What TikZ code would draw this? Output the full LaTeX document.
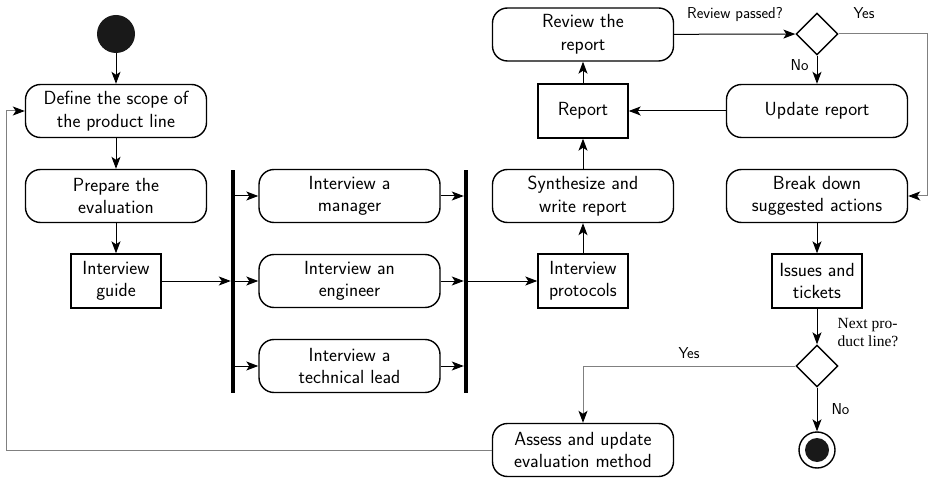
\documentclass[tikz,border=0pt]{standalone}
\usepackage{fontspec}
\newfontfamily\serifb{Liberation Serif}
\usetikzlibrary{arrows.meta,shapes.geometric}
\begin{document}
\begin{tikzpicture}[x=1pt,y=-1pt,
  base/.style={font=\sffamily\fontsize{19}{22.5}\selectfont, align=center, inner sep=0pt},
  act/.style={base, draw, line width=1.4pt, rounded corners=15pt, minimum width=181pt, minimum height=53pt},
  obj/.style={base, draw, line width=1.4pt, minimum width=90pt, minimum height=54pt},
  dec/.style={draw, diamond, line width=1.4pt, minimum width=42pt, minimum height=42pt, inner sep=0pt},
  bar/.style={fill=black, minimum width=4pt, minimum height=223pt, inner sep=0pt},
  arr/.style={-{Stealth[length=12pt,width=9pt,inset=3pt,color=black]}, line width=1pt},
  garr/.style={arr, draw=gray},
  lbl/.style={font=\sffamily\fontsize{15.8}{18}\selectfont, inner sep=0pt},
]
\useasboundingbox (0,0) rectangle (928,478);
\node[circle, fill=black!90, minimum size=38pt, inner sep=0pt] (start) at (116,34) {};
\node[act] (define) at (116,111) {Define the scope of\\the product line};
\node[act] (prepare) at (116,196) {Prepare the\\evaluation};
\node[obj] (guide) at (116,281) {Interview\\guide};
\node[bar] (fork) at (233,281.5) {};
\node[act] (man) at (349.5,196) {Interview a\\manager};
\node[act] (eng) at (349.5,281) {Interview an\\engineer};
\node[act] (tech) at (349.5,366) {Interview a\\technical lead};
\node[bar] (join) at (466,281.5) {};
\node[obj] (prot) at (583,281) {Interview\\protocols};
\node[act] (synth) at (583,196) {Synthesize and\\write report};
\node[obj] (report) at (583,111) {Report};
\node[act] (review) at (583,34.5) {Review the\\report};
\node[dec] (dec1) at (817,34) {};
\node[act] (update) at (817,111) {Update report};
\node[act] (brk) at (817,196) {Break down\\suggested actions};
\node[obj] (issues) at (817,281) {Issues and\\tickets};
\node[dec] (dec2) at (817,366) {};
\node[circle, draw, line width=1.4pt, minimum size=36pt, inner sep=0pt] (end) at (817,450) {};
\node[circle, fill=black!90, minimum size=24pt, inner sep=0pt] (endin) at (end) {};
\node[act] (assess) at (583,450) {Assess and update\\evaluation method};
\coordinate (c1) at (927,34);
\coordinate (c2) at (6,450);

\draw[arr] (start) -- (define);
\draw[arr] (define) -- (prepare);
\draw[arr] (prepare) -- (guide);
\draw[arr] (guide) -- (guide -| fork.west);
\draw[arr] (man.west -| fork.east) -- (man);
\draw[arr] (eng.west -| fork.east) -- (eng);
\draw[arr] (tech.west -| fork.east) -- (tech);
\draw[arr] (man) -- (man -| join.west);
\draw[arr] (eng) -- (eng -| join.west);
\draw[arr] (tech) -- (tech -| join.west);
\draw[arr] (prot.west -| join.east) -- (prot);
\draw[arr] (prot) -- (synth);
\draw[arr] (synth) -- (report);
\draw[arr] (report) -- (review);
\draw[arr] (review) -- (dec1);
\draw[arr] (dec1) -- node[lbl, pos=0.35, left=8pt] {No} (update);
\draw[arr] (update) -- (report);
\draw[garr] (dec1.east) -- (c1) |- (brk.east);
\draw[arr] (brk) -- (issues);
\draw[arr] (issues) -- (dec2);
\draw[arr] (dec2) -- node[lbl, right=14pt] {No} (end);
\draw[garr] (dec2.west) -| (assess.north);
\draw[garr] (assess.west) -- (c2) |- (define.west);

\node[lbl] (lrev) at (735,14) {Review passed?};
\node[lbl] (lyes1) at (864,13) {Yes};
\node[lbl] (lyes2) at (689,353) {Yes};
\node[font=\serifb\fontsize{15.5}{18}\selectfont, align=left, inner sep=0pt] (lnext) at (868,333) {Next pro-\\duct line?};
\end{tikzpicture}
\end{document}
